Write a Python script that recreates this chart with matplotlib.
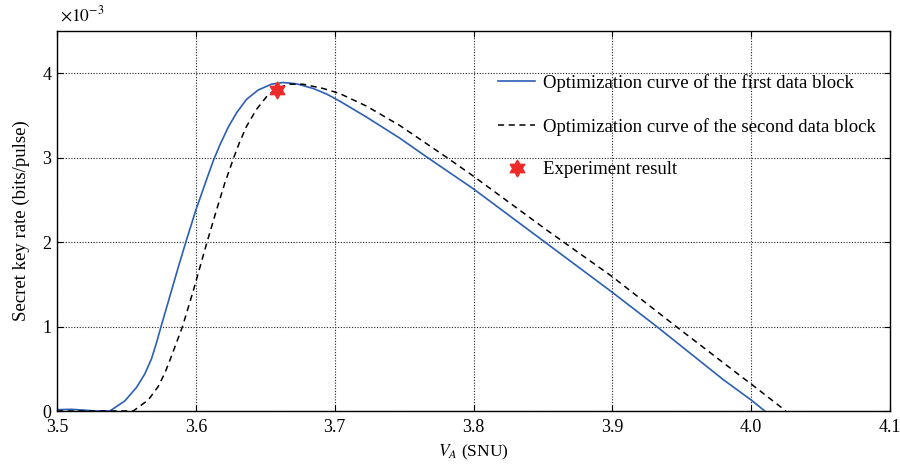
import matplotlib.pyplot as plt
import numpy as np
from matplotlib.path import Path

plt.rcParams['font.family'] = ['Liberation Serif', 'DejaVu Serif']
plt.rcParams['mathtext.fontset'] = 'stix'

# first data block (key rate in units of 1e-3)
va_1 = [3.500, 3.510, 3.520, 3.528, 3.5381, 3.5489, 3.5573, 3.5633, 3.5681, 3.5717,
        3.5746, 3.5813, 3.5873, 3.5928, 3.600, 3.6041, 3.6077, 3.6125, 3.6173, 3.6233,
        3.6293, 3.6365, 3.6448, 3.6544, 3.6628, 3.6724, 3.6844, 3.694, 3.7036, 3.723,
        3.747, 3.767, 3.800, 3.840, 3.900, 3.932, 3.980, 4.000, 4.0098]
kr_1 = [0.015, 0.02, 0.01, 0.0, 0.0, 0.12, 0.28, 0.44, 0.62, 0.81,
        0.98, 1.36, 1.70, 2.0, 2.38, 2.57, 2.74, 2.96, 3.15, 3.36,
        3.53, 3.69, 3.80, 3.87, 3.89, 3.875, 3.82, 3.755, 3.67, 3.48,
        3.23, 3.0, 2.63, 2.14, 1.405, 1.0, 0.37, 0.13, 0.0]

# second data block
va_2 = [3.500, 3.5549, 3.5657, 3.5729, 3.5777, 3.5813, 3.5904, 3.5981, 3.6017, 3.6077,
        3.6149, 3.6209, 3.6273, 3.6312, 3.6365, 3.6436, 3.6508, 3.658, 3.6676, 3.6772,
        3.6916, 3.7036, 3.723, 3.747, 3.781, 3.800, 3.853, 3.900, 3.946, 3.9935,
        4.000, 4.025]
kr_2 = [0.0, 0.0, 0.13, 0.29, 0.45, 0.60, 1.0, 1.42, 1.63, 1.98,
        2.38, 2.70, 3.0, 3.17, 3.37, 3.57, 3.72, 3.82, 3.87, 3.87,
        3.82, 3.76, 3.61, 3.38, 3.0, 2.78, 2.14, 1.59, 1.0, 0.40,
        0.32, 0.0]

exp_va = [3.6585]
exp_kr = [3.80]

labels = ['Optimization curve of the first data block',
          'Optimization curve of the second data block',
          'Experiment result']

fig = plt.figure(figsize=(9, 4.67), dpi=100)
ax = fig.add_axes([57/900, 56/467, 833/900, 380/467])

hexagram = Path.unit_regular_star(6, 0.57735)

ax.plot(va_1, kr_1, color='#2b5fb4', lw=1.2, label=labels[0])
ax.plot(va_2, kr_2, color='black', lw=1.1, linestyle=(0, (4, 3)), label=labels[1])
ax.plot(exp_va, exp_kr, linestyle='none', marker=hexagram, markersize=12,
        color='#ee2a2a', markeredgecolor='#ee2a2a', label=labels[2])

ax.set_xlim(3.5, 4.1)
ax.set_ylim(0, 4.5)
ax.set_xticks(np.arange(3.5, 4.11, 0.1))
ax.set_xticklabels(['3.5', '3.6', '3.7', '3.8', '3.9', '4.0', '4.1'])
ax.set_yticks([0, 1, 2, 3, 4])
ax.tick_params(direction='in', top=True, right=True, labelsize=13, length=4)
ax.tick_params(axis='x', pad=6)
ax.tick_params(axis='y', pad=4)
ax.grid(True, color='#222222', linestyle=(0, (1, 1.5)), lw=0.8)
for s in ax.spines.values():
    s.set_linewidth(1.0)

ax.set_xlabel(r'$V_A$ (SNU)', fontsize=12.5, labelpad=5)
ax.set_ylabel('Secret key rate (bits/pulse)', fontsize=13.5, labelpad=9)
ax.text(0.004, 1.015, r'$\times10^{-3}$', transform=ax.transAxes, fontsize=12.5,
        ha='left', va='bottom')

ax.legend(loc='upper left', bbox_to_anchor=(481/900, 1 - 57/467),
          bbox_transform=fig.transFigure, frameon=False, fontsize=13.5,
          labelspacing=1.38, handlelength=2.0, handletextpad=0.43)

fig.savefig('out.png', dpi=100)
